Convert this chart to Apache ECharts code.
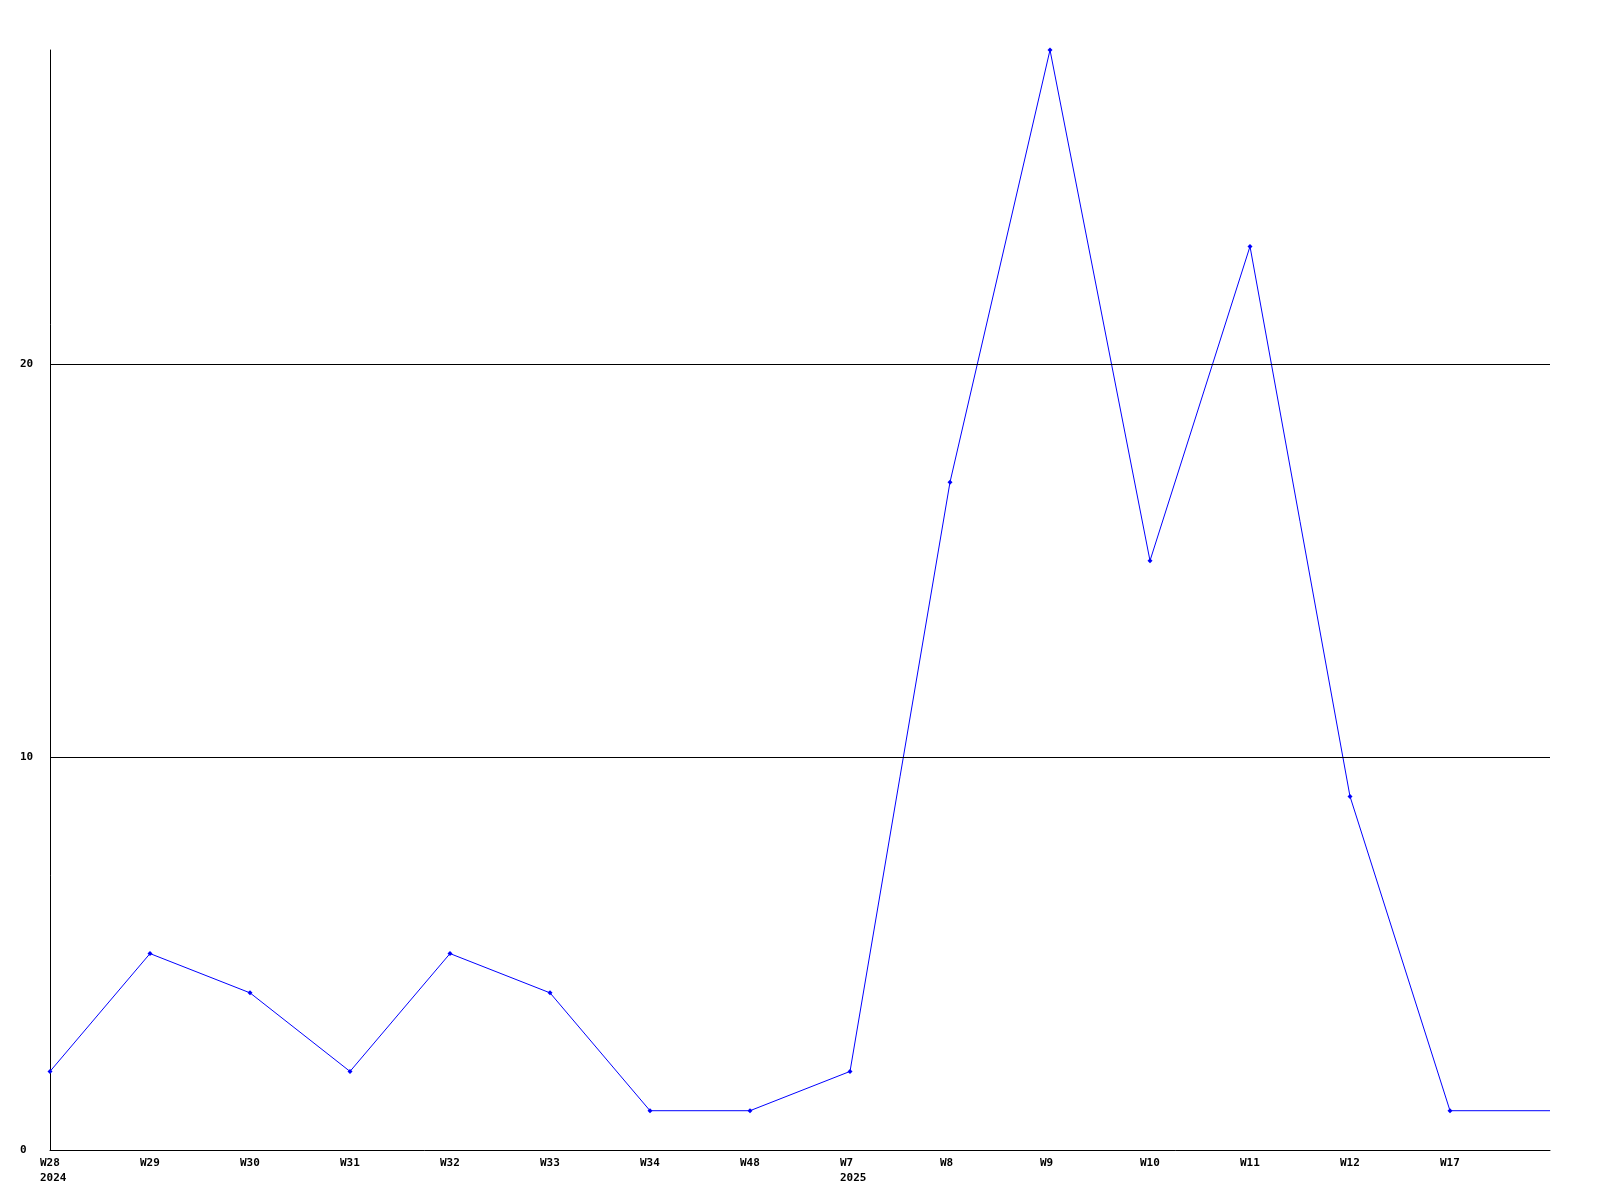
<!DOCTYPE html>
<html>
<head>
<meta charset="utf-8">
<title>Weekly counts</title>
<script src="https://cdn.jsdelivr.net/npm/echarts@6/dist/echarts.min.js"></script>
<style>
  html, body { margin: 0; padding: 0; background: #fff; }
  #chart { width: 1600px; height: 1200px; }
</style>
</head>
<body>
<div id="chart"></div>
<script>
// week labels along the x axis (last point has no label)
const weeks = ['W28', 'W29', 'W30', 'W31', 'W32', 'W33', 'W34', 'W48', 'W7', 'W8', 'W9', 'W10', 'W11', 'W12', 'W17', '']
// year shown under the first week of each year
const years = ['2024', '', '', '', '', '', '', '', '2025', '', '', '', '', '', '', '']
const counts = [2, 5, 4, 2, 5, 4, 1, 1, 2, 17, 28, 15, 23, 9, 1, 1]
const gridValues = [10, 20]

const chart = echarts.init(document.getElementById('chart'))

const labelFont = {
  fontFamily: 'DejaVu Sans Mono',
  fontWeight: 'bold',
  fontSize: 11,
  color: '#000'
}

// the trailing point (no label) is drawn without a marker
const seriesData = counts.map((v, i) => weeks[i] ? v : { value: v, symbol: 'none' })

const option = {
  animation: false,
  backgroundColor: '#fff',
  grid: { left: 50, right: 50, top: 50, bottom: 50 },
  xAxis: {
    type: 'category',
    data: weeks,
    boundaryGap: false,
    axisLine: { lineStyle: { color: '#000', width: 1 } },
    axisTick: { show: false },
    splitLine: { show: false },
    axisLabel: {
      interval: 0,
      margin: 6,
      align: 'center',
      formatter: (val, idx) => {
        const yr = years[idx]
        return yr ? '{a|' + val + '}\n{a|' + yr + '}' : '{a|' + val + '}'
      },
      rich: {
        a: { ...labelFont, width: 20, align: 'left', lineHeight: 15 }
      }
    }
  },
  yAxis: {
    type: 'value',
    min: 0,
    max: 28,
    interval: 10,
    axisLine: { show: true, lineStyle: { color: '#000', width: 1 } },
    axisTick: { show: false },
    splitLine: { show: false },
    axisLabel: {
      ...labelFont,
      align: 'left',
      margin: 30,
      showMaxLabel: false
    }
  },
  series: [{
    type: 'line',
    data: seriesData,
    symbol: 'diamond',
    symbolSize: 5,
    showAllSymbol: true,
    lineStyle: { color: '#0000ff', width: 1 },
    itemStyle: { color: '#0000ff' },
    markLine: {
      silent: true,
      symbol: ['none', 'none'],
      label: { show: false },
      lineStyle: { color: '#000', width: 1, type: 'solid' },
      data: gridValues.map(v => ({ yAxis: v }))
    },
    z: 3
  }]
}

chart.setOption(option)
</script>
</body>
</html>
